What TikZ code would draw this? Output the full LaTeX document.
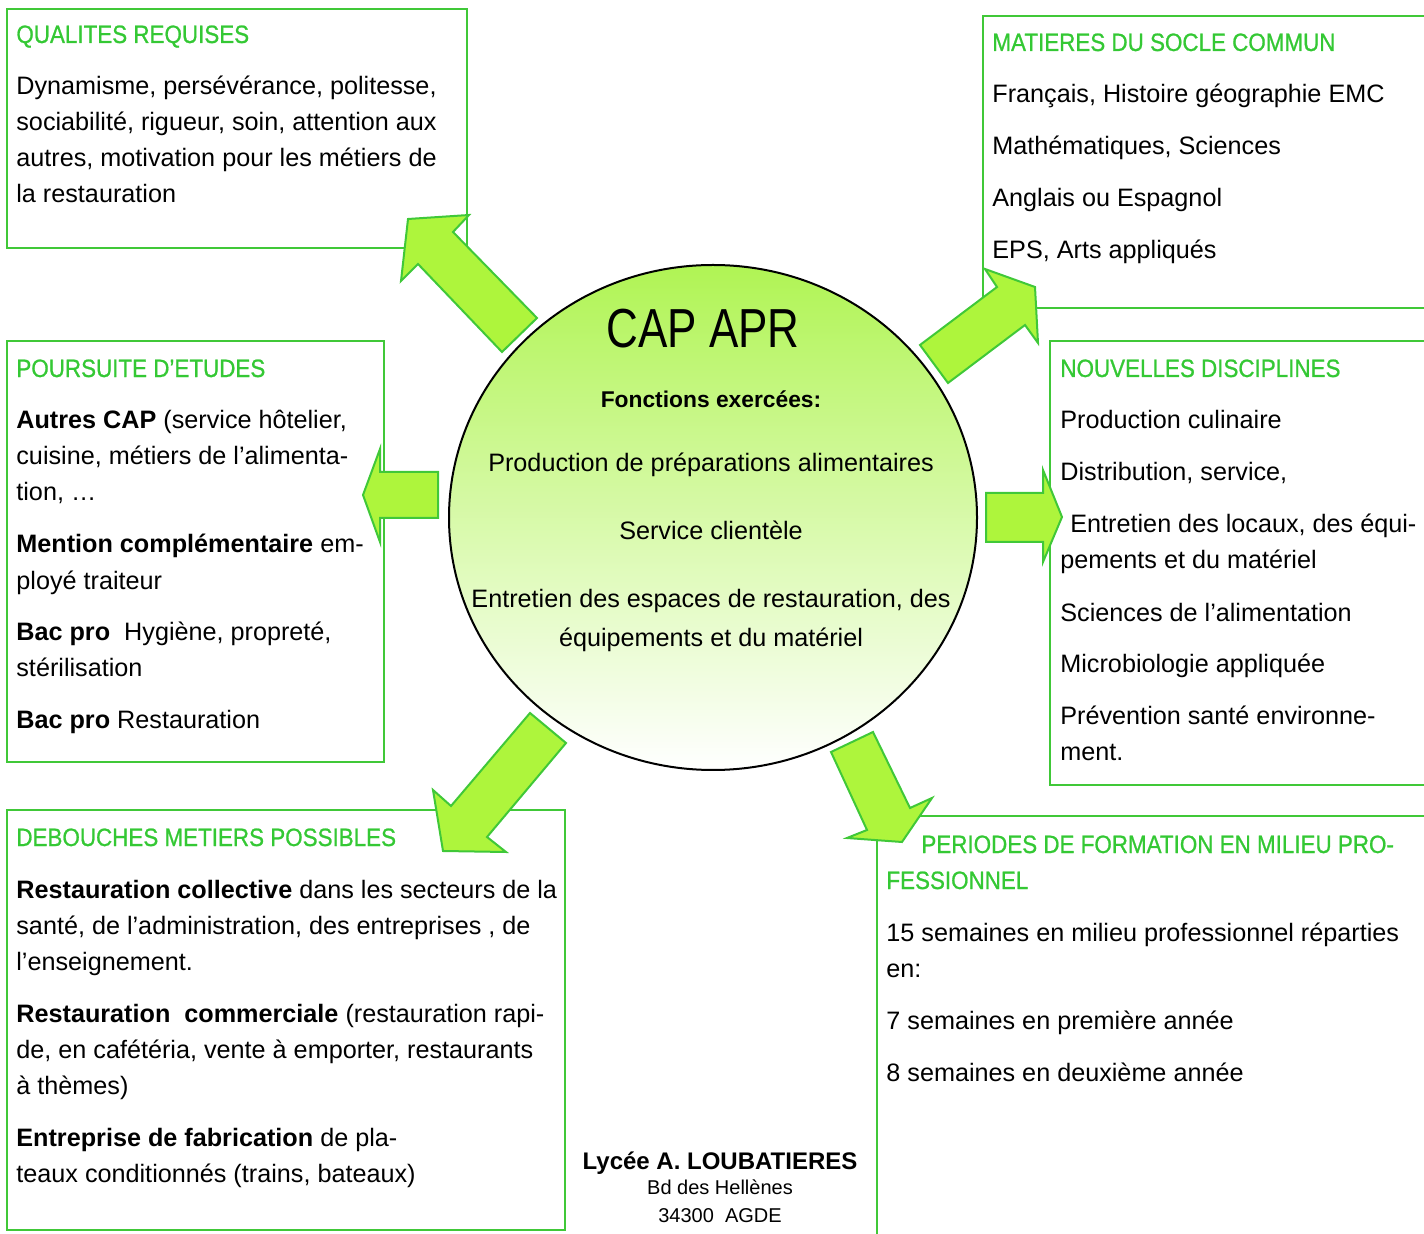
\documentclass[tikz,border=0pt]{standalone}
\usepackage{fontspec}
\setmainfont{Liberation Sans}
\newfontfamily\headfont[FakeBold=0.9]{Liberation Sans}
\usepackage{tikz}

\definecolor{boxgreen}{RGB}{64,200,56}
\definecolor{headgreen}{RGB}{52,200,52}
\definecolor{arrowfill}{RGB}{174,245,60}
\definecolor{discgreen}{RGB}{176,244,84}

\newcommand{\head}[1]{{\headfont\fontsize{11.2}{18}\selectfont\color{headgreen}\scalebox{1}[1.12]{#1}}}

\begin{document}
\begin{tikzpicture}[
    x=0.5pt, y=-0.5pt,
    infobox/.style={draw=boxgreen, line width=1pt},
    infotext/.style={anchor=base west, inner sep=0pt, align=left, font=\fontsize{12.6}{18}\selectfont},
    blockarrow/.style={draw=boxgreen, fill=arrowfill, line width=1pt, line join=miter},
    ]

    \path[use as bounding box] (0,0) rectangle (1424,1234);
    \clip (0,0) rectangle (1424,1234);

    % boxes
    \draw[infobox] (7,9) rectangle (467,248);
    \draw[infobox] (983,16) rectangle (1440,308);
    \draw[infobox] (7,341) rectangle (384,762);
    \draw[infobox] (1050,341) rectangle (1440,785);
    \draw[infobox] (7,810) rectangle (565,1230);
    \draw[infobox] (877,816) rectangle (1440,1250);

    % texts, placed at the baseline of their last line
    \node[infotext] (qualites) at (16,203) {\head{QUALITES REQUISES}\\[8pt]
        Dynamisme, persévérance, politesse,\\
        sociabilité, rigueur, soin, attention aux\\
        autres, motivation pour les métiers de\\
        la restauration};

    \node[infotext] (socle) at (992,259) {\head{MATIERES DU SOCLE COMMUN}\\[8pt]
        Français, Histoire géographie EMC\\[8pt]
        Mathématiques, Sciences\\[8pt]
        Anglais ou Espagnol\\[8pt]
        EPS, Arts appliqués};

    \node[infotext] (poursuite) at (16,729) {\head{POURSUITE D’ETUDES}\\[8pt]
        \textbf{Autres CAP} (service hôtelier,\\
        cuisine, métiers de l’alimenta-\\
        tion, …\\[8pt]
        \textbf{Mention complémentaire} em-\\
        ployé traiteur\\[8pt]
        \textbf{Bac pro}\ \ Hygiène, propreté,\\
        stérilisation\\[8pt]
        \textbf{Bac pro} Restauration};

    \node[infotext] (disciplines) at (1060,761) {\head{NOUVELLES DISCIPLINES}\\[8pt]
        Production culinaire\\[8pt]
        Distribution, service,\\[8pt]
        \hspace*{5pt}Entretien des locaux, des équi-\\
        pements et du matériel\\[8pt]
        Sciences de l’alimentation\\[8pt]
        Microbiologie appliquée\\[8pt]
        Prévention santé environne-\\
        ment.};

    \node[infotext] (debouches) at (16,1182) {\head{DEBOUCHES METIERS POSSIBLES}\\[8pt]
        \textbf{Restauration collective} dans les secteurs de la\\
        santé, de l’administration, des entreprises , de\\
        l’enseignement.\\[8pt]
        \textbf{Restauration\ \ commerciale} (restauration rapi-\\
        de, en cafétéria, vente à emporter, restaurants\\
        à thèmes)\\[8pt]
        \textbf{Entreprise de fabrication} de pla-\\
        teaux conditionnés (trains, bateaux)};

    \node[infotext] (periodes) at (886,1081) {\hspace*{17.5pt}\head{PERIODES DE FORMATION EN MILIEU PRO-}\\
        \head{FESSIONNEL}\\[8pt]
        15 semaines en milieu professionnel réparties\\
        en:\\[8pt]
        7 semaines en première année\\[8pt]
        8 semaines en deuxième année};

    % central disc
    \draw[top color=discgreen, bottom color=white, line width=1pt]
        (713,517.5) ellipse [x radius=132pt, y radius=126.25pt];
    \node[anchor=base, inner sep=0pt] (cap) at (703,348)
        {\scalebox{1}[1.25]{\fontsize{22}{22}\selectfont CAP APR}};
    \node[anchor=base, inner sep=0pt, align=center, font=\fontsize{12.6}{19.5}\selectfont] (fonctions) at (711,647)
        {{\fontsize{11.4}{19.5}\selectfont\bfseries Fonctions exercées:}\\[12.5pt]
        Production de préparations alimentaires\\[14.5pt]
        Service clientèle\\[14.5pt]
        Entretien des espaces de restauration, des\\
        équipements et du matériel};

    % block arrows
    \draw[blockarrow] (537,318) -- (502,352) -- (418,264) -- (401,281) -- (408,219)
        -- (469,215) -- (453,232) -- cycle;
    \draw[blockarrow] (920,345) -- (997,287) -- (985,269) -- (1035,287) -- (1038,343)
        -- (1025,325) -- (948,383) -- cycle;
    \draw[blockarrow] (438,472) -- (380,472) -- (380,449) -- (363,495) -- (380,542)
        -- (380,518) -- (438,518) -- cycle;
    \draw[blockarrow] (986,493) -- (1043,493) -- (1043,470) -- (1062,517) -- (1043,562)
        -- (1043,542) -- (986,542) -- cycle;
    \draw[blockarrow] (530,713) -- (566,743) -- (487,837) -- (506,852) -- (443,851)
        -- (433,790) -- (451,806) -- cycle;
    \draw[blockarrow] (831,752) -- (873,732) -- (910,808) -- (932,798) -- (902,842)
        -- (847,838) -- (867,830) -- cycle;

    % address
    \node[anchor=base, inner sep=0pt, font=\fontsize{12}{12}\selectfont\bfseries] (lycee) at (720,1169) {Lycée A. LOUBATIERES};
    \node[anchor=base, inner sep=0pt, font=\fontsize{10}{10}\selectfont] (rue) at (720,1194) {Bd des Hellènes};
    \node[anchor=base, inner sep=0pt, font=\fontsize{10}{10}\selectfont] (ville) at (720,1222) {34300\ \ AGDE};

\end{tikzpicture}
\end{document}
